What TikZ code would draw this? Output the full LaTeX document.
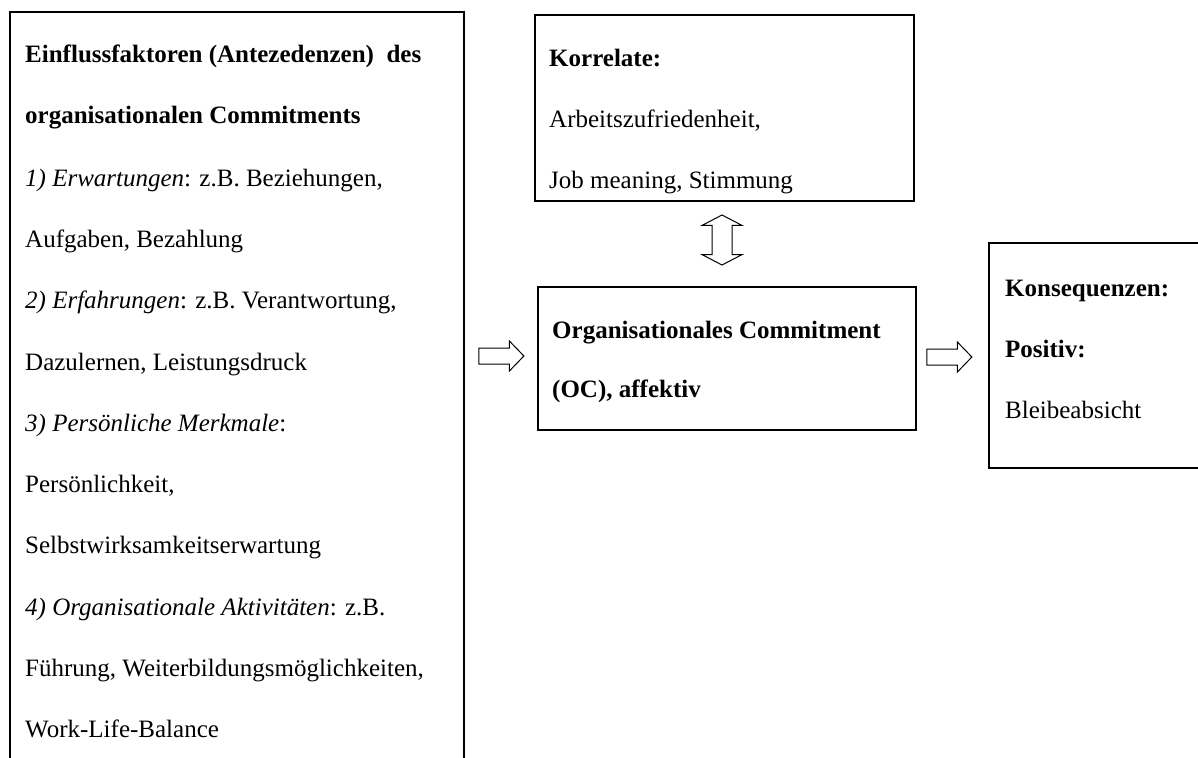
\documentclass[tikz,border=0pt]{standalone}
\usepackage{fontspec}
\setmainfont{Liberation Serif}
\usetikzlibrary{shapes.arrows}
\newcommand\diagfont{\fontsize{25}{30}\selectfont}
\tikzset{
  box/.style={draw, line width=1.8pt, rectangle, inner sep=0pt, anchor=north west},
  txt/.style={inner sep=0pt, anchor=base west, font=\diagfont},
  harrow/.style={draw, line width=1pt, single arrow, minimum height=45pt,
    inner xsep=0pt, inner ysep=7.5pt, single arrow head extend=7pt,
    single arrow tip angle=92},
  varrow/.style={draw, line width=1pt, double arrow, rotate=90, minimum height=50pt,
    inner xsep=0pt, inner ysep=9.5pt, double arrow head extend=10pt,
    double arrow tip angle=125}
}
\begin{document}
\begin{tikzpicture}[x=1pt, y=-1pt]
\useasboundingbox (0,0) rectangle (1198,757);

% boxes
\node[box, minimum width=454pt, minimum height=800pt] (ante) at (9,11) {};
\node[box, minimum width=379pt, minimum height=186pt] (korr) at (534,14) {};
\node[box, minimum width=378pt, minimum height=143pt] (oc) at (537,286) {};
\node[box, minimum width=260pt, minimum height=225pt] (kons) at (988,242) {};

% antecedents
\node[txt] (a0)  at (25,63)  {\textbf{Einflussfaktoren (Antezedenzen)\ \ des}};
\node[txt] (a1)  at (25,124) {\textbf{organisationalen Commitments}};
\node[txt] (a2)  at (25,186) {\textit{1) Erwartungen}: z.B. Beziehungen,};
\node[txt] (a3)  at (25,247) {Aufgaben, Bezahlung};
\node[txt] (a4)  at (25,308) {\textit{2) Erfahrungen}: z.B. Verantwortung,};
\node[txt] (a5)  at (25,370) {Dazulernen, Leistungsdruck};
\node[txt] (a6)  at (25,431) {\textit{3) Persönliche Merkmale}:};
\node[txt] (a7)  at (25,492) {Persönlichkeit,};
\node[txt] (a8)  at (25,553) {Selbstwirksamkeitserwartung};
\node[txt] (a9)  at (25,615) {\textit{4) Organisationale Aktivitäten}: z.B.};
\node[txt] (a10) at (25,676) {Führung, Weiterbildungsmöglichkeiten,};
\node[txt] (a11) at (25,737) {Work-Life-Balance};

% correlates
\node[txt] (k0) at (549,67)  {\textbf{Korrelate:}};
\node[txt] (k1) at (549,128) {Arbeitszufriedenheit,};
\node[txt] (k2) at (549,188) {Job meaning, Stimmung};

% organisational commitment
\node[txt] (o0) at (552,338) {\textbf{Organisationales Commitment}};
\node[txt] (o1) at (552,397) {\textbf{(OC), affektiv}};

% consequences
\node[txt] (c0) at (1005,296) {\textbf{Konsequenzen:}};
\node[txt] (c1) at (1005,357) {\textbf{Positiv:}};
\node[txt] (c2) at (1005,418) {Bleibeabsicht};

% block arrows
\node[harrow] (ar1) at (497.5,356) {};
\node[harrow] (ar2) at (945.5,357) {};
\node[varrow] (ar3) at (722,240) {};
\end{tikzpicture}
\end{document}
